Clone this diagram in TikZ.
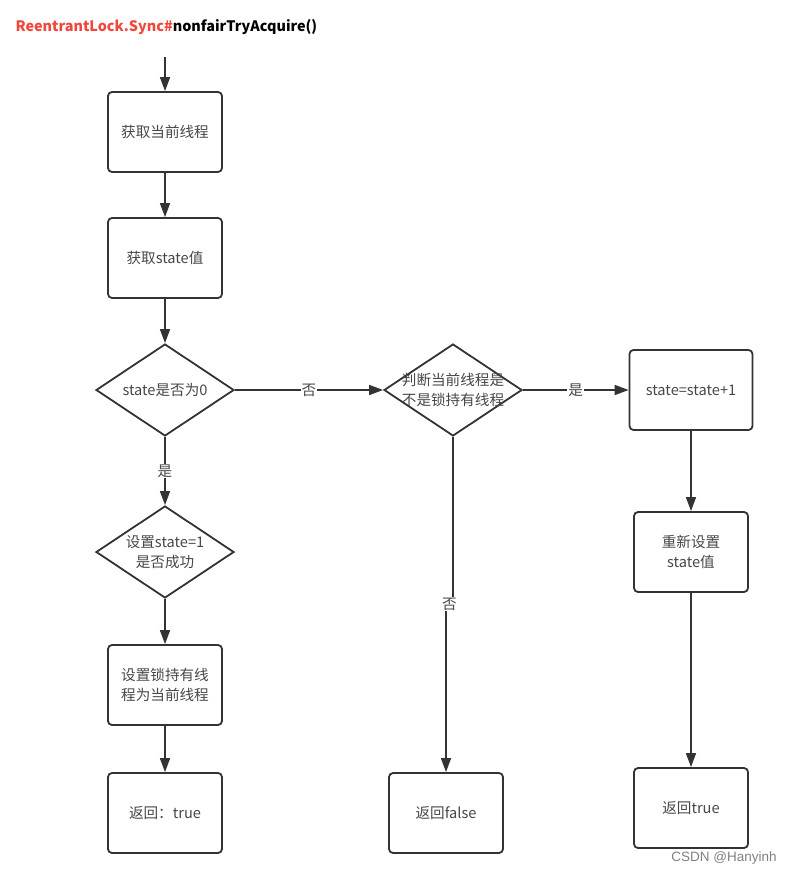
\documentclass[tikz,border=0pt]{standalone}
\usepackage{fontspec}
\setmainfont{Noto Sans CJK SC}
\newfontfamily\marksans{Liberation Sans}
\usetikzlibrary{positioning,arrows.meta,shapes.geometric}
\definecolor{linecol}{HTML}{333333}
\definecolor{textcol}{HTML}{474747}
\definecolor{titlered}{HTML}{F0473C}
\tikzset{
  stepbox/.style={draw=linecol, line width=1.8pt, rounded corners=4pt, minimum width=114pt, minimum height=80pt, align=center, inner sep=2pt},
  decide/.style={draw=linecol, line width=1.8pt, diamond, minimum width=138pt, minimum height=92pt, inner sep=0pt},
  inner/.style={align=center},
  flow/.style={draw=linecol, line width=1.6pt, -{Triangle[length=14pt,width=10pt]}},
  yesno/.style={fill=white, inner sep=1pt}
}

\begin{document}
\begin{tikzpicture}[x=1pt, y=-1pt, every node/.style={font=\fontsize{14.6}{20}\selectfont, text=textcol}]
  \useasboundingbox (0,0) rectangle (795,874);
  \node[anchor=west, font=\fontsize{14.4}{18}\selectfont\bfseries, text=black] (title) at (12,27)
    {\textcolor{titlered}{ReentrantLock.Sync\#}nonfairTryAcquire()};
  \coordinate (start) at (165,57);
  % left column
  \node[stepbox] (cur) at (165,132) {获取当前线程};
  \node[stepbox] (st) at (165,258) {获取state值};
  \node[decide, label={[inner]center:state是否为0}] (zero) at (165,390) {};
  \node[decide, label={[inner]center:{设置state=1\\是否成功}}] (cas) at (165,552) {};
  \node[stepbox] (own) at (165,685) {设置锁持有线\\程为当前线程};
  \node[stepbox] (okret) at (165,813) {返回：true};
  % middle column
  \node[decide, label={[inner]center:{判断当前线程是\\不是锁持有线程}}] (check) at (453,390) {};
  \node[stepbox] (failret) at (446,813) {返回false};
  % right column
  \node[stepbox, minimum width=123pt] (inc) at (691,390) {state=state+1};
  \node[stepbox] (reset) at (691,552) {重新设置\\state值};
  \node[stepbox] (reent) at (691,808) {返回true};
  % connectors
  \draw[flow] (start) -- (cur);
  \draw[flow] (cur) -- (st);
  \draw[flow] (st) -- (zero);
  \draw[flow] (zero) -- node[yesno]{是} (cas);
  \draw[flow] (cas) -- (own);
  \draw[flow] (own) -- (okret);
  \draw[flow] (zero) -- node[yesno]{否} (check);
  \draw[flow] (check) -- node[yesno]{是} (inc);
  \draw[flow] (inc) -- (reset);
  \draw[flow] (reset) -- (reent);
  \draw[flow] (check.south) -- (453,604) -- (446,604) -- (failret.north);
  \node[yesno] (no2) at (449.5,604) {否};
  \node[font=\marksans\fontsize{13.5}{15}\selectfont, text=gray] (mark) at (724,858) {CSDN @Hanyinh};
\end{tikzpicture}
\end{document}
